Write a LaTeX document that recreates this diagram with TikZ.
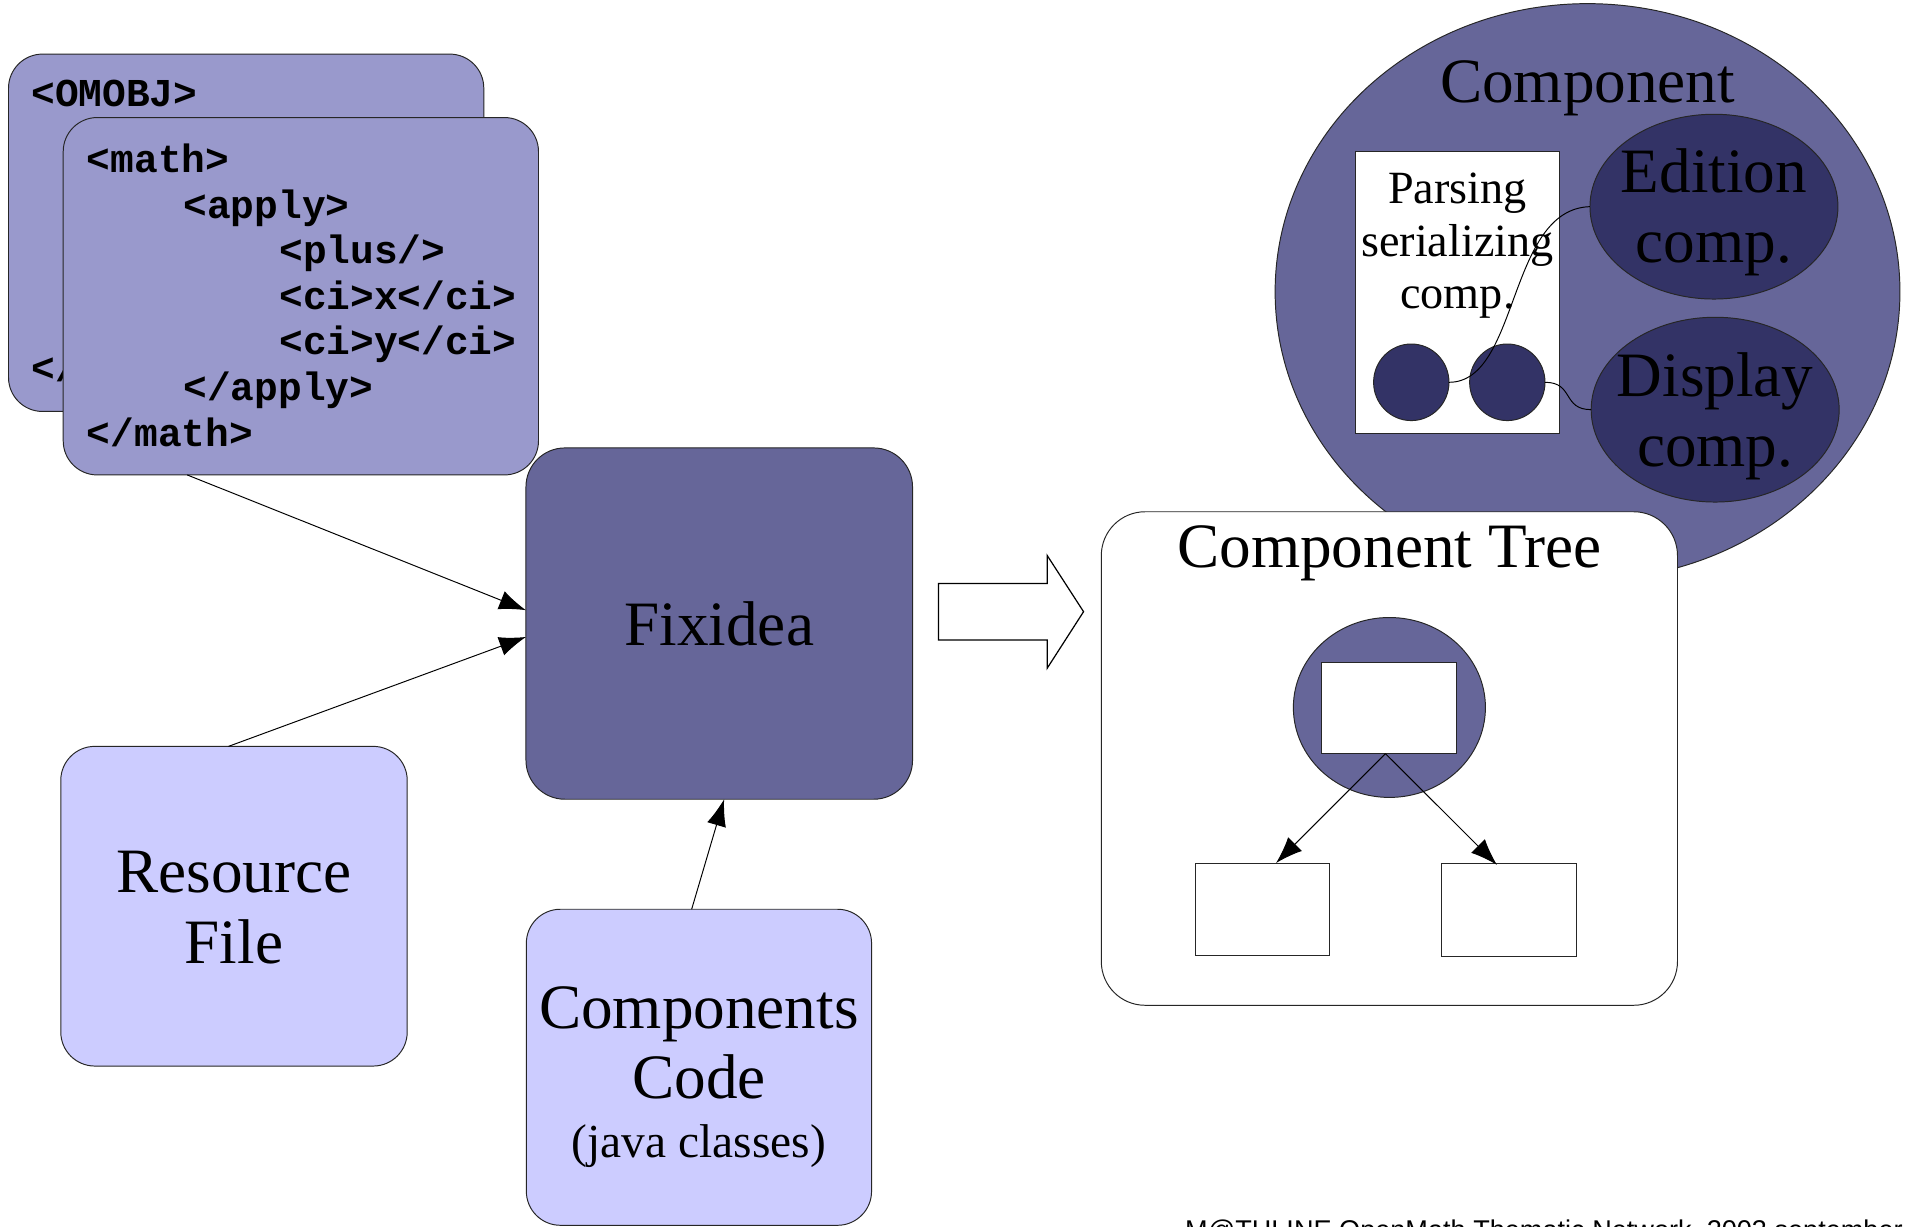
\documentclass[tikz,border=0pt]{standalone}
\usepackage{fontspec}
\setmainfont{Liberation Serif}
\newfontfamily\codefont{Liberation Mono}
\newfontfamily\footfont{Liberation Sans}
\usetikzlibrary{arrows.meta,shapes.geometric,calc}
\definecolor{cLight}{RGB}{153,153,204}
\definecolor{cMid}{RGB}{102,102,153}
\definecolor{cDark}{RGB}{51,51,102}
\definecolor{cPale}{RGB}{204,204,255}
\begin{document}
\begin{tikzpicture}[x=1pt,y=-1pt,
  every node/.style={inner sep=0pt, outer sep=0pt},
  frame/.style={draw=black!85, line width=0.8pt},
  codebox/.style={frame, rectangle, fill=cLight, rounded corners=28pt},
  palebox/.style={frame, rectangle, fill=cPale, rounded corners=28pt},
  midbox/.style={frame, rectangle, fill=cMid, rounded corners=32pt},
  whitebox/.style={frame, rectangle, fill=white},
  darkoval/.style={frame, ellipse, fill=cDark},
  codeline/.style={anchor=base west, font=\codefont\bfseries\fontsize{32.5}{36}\selectfont},
  bigtext/.style={anchor=base, font=\fontsize{52}{57}\selectfont},
  midtext/.style={anchor=base, font=\fontsize{38}{43}\selectfont},
  smalltext/.style={anchor=base, font=\fontsize{39}{44}\selectfont},
  conn/.style={line width=0.8pt, -{Latex[length=22pt,width=16pt]}},
  wire/.style={line width=0.8pt}
]
\useasboundingbox (0,0) rectangle (1568,1009);

% ---------- code boxes ----------
\node[codebox, minimum width=391pt, minimum height=294pt] (back) at (202.5,191.5) {};
\node[codeline] (om1) at (25.8,88) {<OMOBJ>};
\node[codeline] (om2) at (25.8,314) {</OMOBJ>};
\node[codebox, minimum width=391pt, minimum height=294pt] (front) at (247.5,243.7) {};
\node[codeline] (c1) at (71.5,142) {<math>};
\node[codeline] (c2) at (151,179.5) {<apply>};
\node[codeline] (c3) at (229.8,217) {<plus/>};
\node[codeline] (c4) at (229.8,254.5) {<ci>x</ci>};
\node[codeline] (c5) at (229.8,292) {<ci>y</ci>};
\node[codeline] (c6) at (151,329.5) {</apply>};
\node[codeline] (c7) at (71.5,367) {</math>};

% ---------- Fixidea ----------
\node[midbox, minimum width=318pt, minimum height=289pt] (fix) at (591.7,513) {};
\node[bigtext] (fixt) at (591.7,531) {Fixidea};

% ---------- Resource File ----------
\node[palebox, minimum width=285pt, minimum height=263pt] (res) at (192.5,745.5) {};
\node[bigtext] (res1) at (192.5,734) {Resource};
\node[bigtext] (res2) at (192.5,793) {File};

% ---------- Components Code ----------
\node[palebox, minimum width=284pt, minimum height=260pt] (cc) at (575,878) {};
\node[bigtext] (cc1) at (575,846) {Components};
\node[bigtext] (cc2) at (575,904) {Code};
\node[smalltext] (cc3) at (575,952) {(java classes)};

% ---------- connectors to Fixidea ----------
\draw[conn] ([xshift=102pt]front.south west) -- ([yshift=11pt]fix.west);
\draw[conn] ([xshift=138pt]res.north west) -- ([yshift=-11pt]fix.west);
\draw[conn] ([xshift=-6pt]cc.north) -- ([xshift=4pt]fix.south);

% ---------- hollow arrow ----------
\draw[line width=1pt, fill=white] (772,480) -- (861.5,480) -- (861.5,457) -- (891.4,503.2)
  -- (861.5,549.7) -- (861.5,526.5) -- (772,526.5) -- cycle;

% ---------- Component ----------
\node[frame, ellipse, fill=cMid, minimum width=514pt, minimum height=474pt] (comp) at (1306,240) {};
\node[bigtext] (compt) at (1306,84) {Component};

\node[whitebox, minimum width=168pt, minimum height=232pt] (pars) at (1199,241) {};
\node[midtext] (p1) at (1199,167) {Parsing};
\node[midtext] (p2) at (1199,211) {serializing};
\node[midtext] (p3) at (1199,254) {comp.};
\node[darkoval, minimum width=62pt, minimum height=63pt] (sc1) at (1161,314.5) {};
\node[darkoval, minimum width=62pt, minimum height=63pt] (sc2) at (1240,314.5) {};

\node[darkoval, minimum width=204pt, minimum height=152pt] (edit) at (1410,170) {};
\node[bigtext] (e1) at (1410,158) {Edition};
\node[bigtext] (e2) at (1410,216) {comp.};
\node[darkoval, minimum width=204pt, minimum height=152pt] (disp) at (1411,337) {};
\node[bigtext] (d1) at (1411,326) {Display};
\node[bigtext] (d2) at (1411,384) {comp.};

\draw[wire] (sc1.east) .. controls +(58,0) and +(-68,2) .. (edit.west);
\draw[wire] (sc2.east) .. controls +(24,0) and +(-24,0) .. (disp.west);

% ---------- Component Tree ----------
\node[frame, rectangle, fill=white, rounded corners=36pt, minimum width=474pt, minimum height=406pt] (tree) at (1143,624) {};
\node[bigtext] (treet) at (1143,467) {Component Tree};
\node[frame, ellipse, fill=cMid, minimum width=158pt, minimum height=148pt] (tcirc) at (1143,582) {};
\node[whitebox, minimum width=110.5pt, minimum height=75pt] (troot) at (1142.75,582.5) {};
\node[whitebox, minimum width=110.5pt, minimum height=76pt] (ch1) at (1038.75,748) {};
\node[whitebox, minimum width=111pt, minimum height=76pt] (ch2) at (1241.5,748.5) {};
\draw[conn] ([xshift=-3pt]troot.south) -- ([xshift=11pt]ch1.north);
\draw[conn] ([xshift=-3pt]troot.south) -- ([xshift=-10pt,yshift=-1pt]ch2.north);

% ---------- footer ----------
\node[anchor=base west, font=\footfont\fontsize{22.3}{26}\selectfont] (foot) at (975,1020)
  {M@THLINE OpenMath Thematic Network, 2003 september};
\end{tikzpicture}
\end{document}
